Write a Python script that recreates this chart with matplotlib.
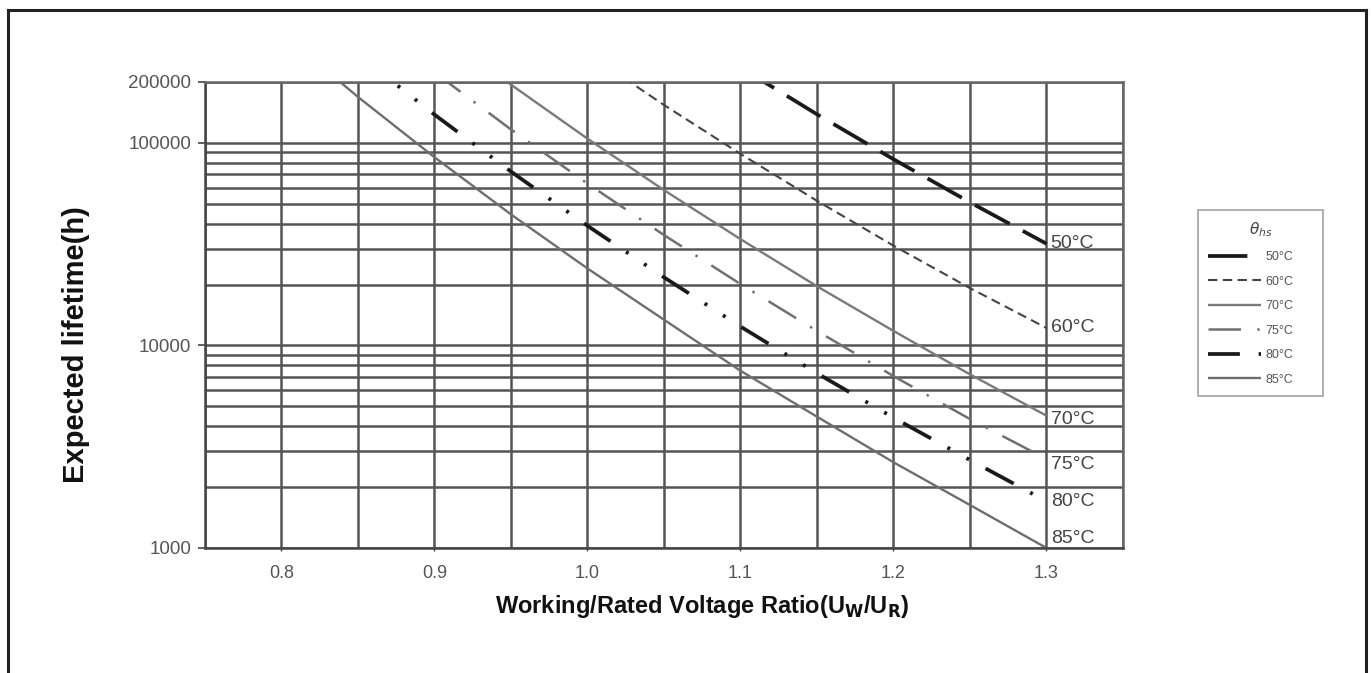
import numpy as np
import matplotlib
matplotlib.use("Agg")
import matplotlib.pyplot as plt
from matplotlib.ticker import FixedLocator, LogLocator, NullFormatter, MultipleLocator
from matplotlib.lines import Line2D

plt.rcParams['font.family'] = ['Liberation Sans', 'DejaVu Sans']

nan = np.nan
# ---- data ----
voltage_ratio = [0.80, 0.85, 0.90, 0.95, 1.00, 1.05, 1.10, 1.15, 1.20, 1.25, 1.30]
life_50 = [nan, nan, nan, nan, nan, nan, 236000, 138500, 83100, 50900, 31800]
life_60 = [nan, nan, nan, nan, 277000, 154000, 88300, 51800, 31100, 19200, 12200]
life_70 = [nan, nan, 372000, 194000, 105000, 58500, 33500, 19600, 11800, 7200, 4500]
life_75 = [nan, nan, 223000, 116600, 63000, 35100, 20100, 11800, 7060, 4330, 2750]
life_80 = [nan, 274000, 138000, 72200, 39000, 21700, 12400, 7290, 4400, 2720, 1700]
life_85 = [350000, 168700, 85000, 44400, 24000, 13400, 7500, 4450, 2650, 1630, 1000]
series_labels = ["50°C", "60°C", "70°C", "75°C", "80°C", "85°C"]
series_values = [life_50, life_60, life_70, life_75, life_80, life_85]
x_tick_values = [0.8, 0.9, 1.0, 1.1, 1.2, 1.3]
x_tick_labels = ["0.8", "0.9", "1.0", "1.1", "1.2", "1.3"]
y_tick_values = [1000, 10000, 100000, 200000]
y_tick_labels = ["1000", "10000", "100000", "200000"]

# ---- styles ----
styles = [
    dict(color="#1a1a1a", lw=2.7, dashes=(10.5, 4.0)),
    dict(color="#444444", lw=1.5, dashes=(4.5, 2.6)),
    dict(color="#7a7a7a", lw=1.7, ls="-"),
    dict(color="#707070", lw=1.8, dashes=(13, 6.5, 1.0, 6.5)),
    dict(color="#1a1a1a", lw=2.7, dashes=(8.5, 5.0, 0.8, 5.0, 0.8, 5.0)),
    dict(color="#6e6e6e", lw=1.7, ls="-"),
]
label_offsets = [(3, 0), (3, 0), (3, -3), (3, -4), (3, 0), (3, 7)]

W, H = 1371, 673
fig = plt.figure(figsize=(W / 100, H / 100), dpi=100)
fig.patch.set_facecolor("white")
ax = fig.add_axes([205 / W, 1 - 548 / H, (1123 - 205) / W, (548 - 82) / H])

ax.set_yscale("log")
ax.set_xlim(0.75, 1.35)
ax.set_ylim(1000, 200000)

handles = []
for vals, lab, st in zip(series_values, series_labels, styles):
    (ln,) = ax.plot(voltage_ratio, vals, label=lab, solid_capstyle="butt",
                    dash_capstyle="butt", **st)
    handles.append(ln)

for vals, lab, off in zip(series_values, series_labels, label_offsets):
    ax.annotate(lab, xy=(voltage_ratio[-1], vals[-1]), xytext=off,
                textcoords="offset points", ha="left", va="center",
                fontsize=14, color="#444444", annotation_clip=False)

# ticks and grid
ax.xaxis.set_major_locator(FixedLocator(x_tick_values))
ax.set_xticklabels(x_tick_labels)
ax.xaxis.set_minor_locator(MultipleLocator(0.05))
ax.yaxis.set_major_locator(FixedLocator(y_tick_values))
ax.set_yticklabels(y_tick_labels)
ax.yaxis.set_minor_locator(LogLocator(base=10, subs=range(2, 10)))
ax.yaxis.set_minor_formatter(NullFormatter())

ax.grid(True, which="both", axis="both", color="#555555", lw=1.8)
ax.set_axisbelow(True)
ax.tick_params(axis="y", which="major", length=5, width=1.2, color="#444444",
               labelsize=13.5, labelcolor="#555555", pad=5)
ax.tick_params(axis="x", which="major", length=2, width=1.0, color="#444444",
               labelsize=13, labelcolor="#555555", pad=10)
ax.tick_params(which="minor", length=0)
for side in ["top", "right", "bottom", "left"]:
    ax.spines[side].set_color("#666666")
    ax.spines[side].set_linewidth(1.8)
ax.spines["left"].set_color("#444444")
ax.spines["bottom"].set_color("#444444")

# axis labels
fig.text(702 / W, 1 - 606 / H, r"Working/Rated Voltage Ratio(U$_\mathbf{W}$/U$_\mathbf{R}$)",
         ha="center", va="center", fontsize=17, fontweight="bold", color="#111111")
fig.text(76 / W, 1 - 345 / H, "Expected lifetime(h)", rotation=90,
         ha="center", va="center", fontsize=21, fontweight="bold", color="#111111")

# legend
leg = fig.legend(handles=handles, labels=series_labels, loc="upper left",
                 bbox_to_anchor=(1198 / W, 1 - 210 / H - 0.01, 125 / W, 0.01),
                 mode="expand", frameon=True, fancybox=False, shadow=False,
                 fontsize=9, title=r"$\theta_{hs}$", title_fontsize=11,
                 handlelength=4.2, handletextpad=0.4, labelspacing=1.0,
                 borderpad=0.8, borderaxespad=0)
leg.get_frame().set_edgecolor("#8a8a8a")
leg.get_frame().set_linewidth(1.2)
for t in leg.get_texts():
    t.set_color("#555555")
leg.get_title().set_color("#444444")

# outer frame of the figure
for xs, ys in [((8 / W, 8 / W), (0, 1 - 10 / H)),
               ((8 / W, 1366 / W), (1 - 10 / H, 1 - 10 / H)),
               ((1366 / W, 1366 / W), (1 - 10 / H, 0))]:
    fig.add_artist(Line2D(xs, ys, transform=fig.transFigure, color="#222222", lw=2.2))

fig.savefig("out.png", dpi=100, facecolor="white")
